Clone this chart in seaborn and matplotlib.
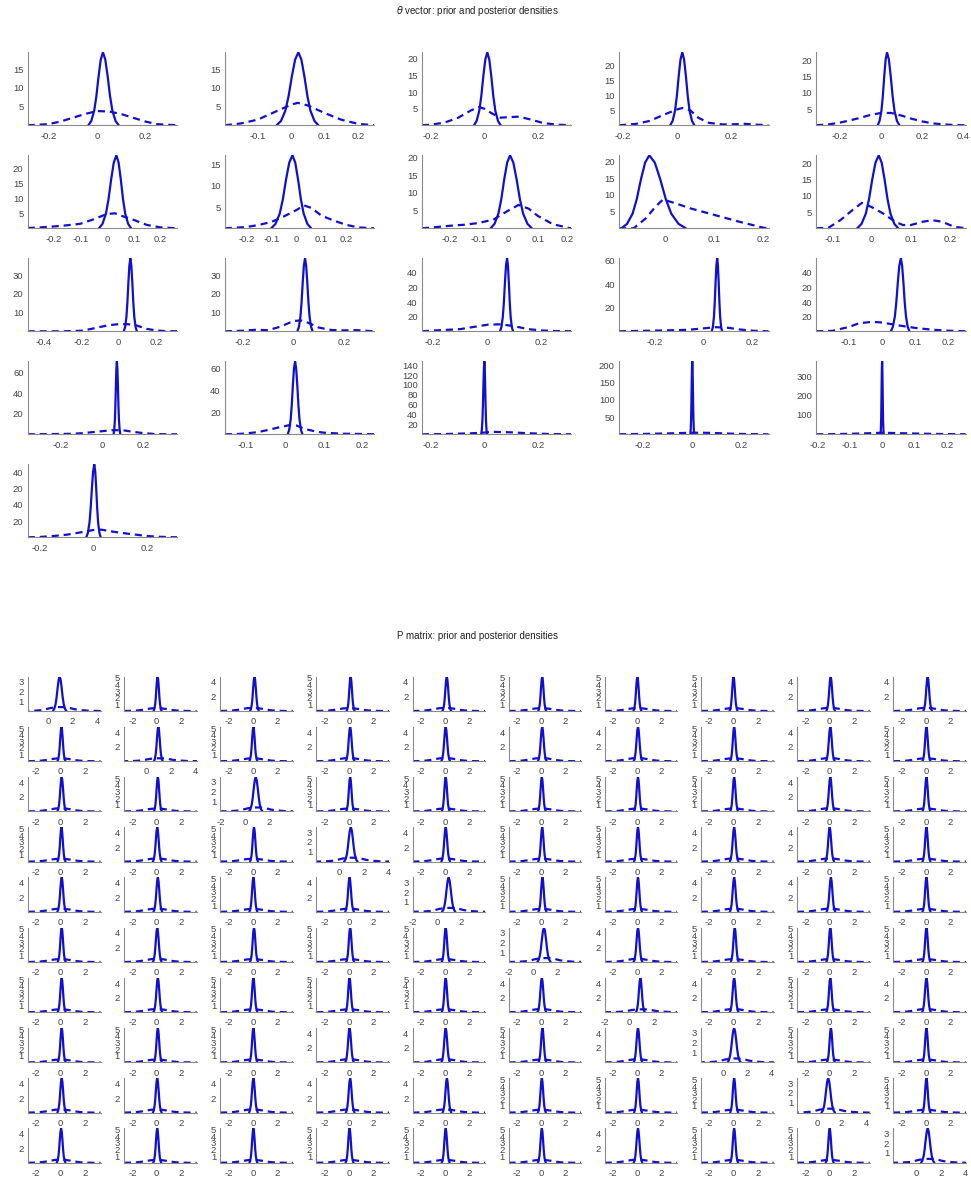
import numpy as np
import pandas as pd
import matplotlib
matplotlib.use("Agg")
import matplotlib.pyplot as plt
from matplotlib.ticker import AutoMinorLocator
import seaborn as sns

BLUE = "#1010d0"

# theta vector panels (5 x 5 grid, 21 used)
theta_xlim = [(-0.285, 0.331), (-0.198, 0.249), (-0.234, 0.326), (-0.215, 0.34), (-0.313, 0.41),
              (-0.296, 0.262), (-0.287, 0.312), (-0.293, 0.214), (-0.095, 0.211), (-0.142, 0.24),
              (-0.487, 0.314), (-0.27, 0.319), (-0.242, 0.311), (-0.344, 0.265), (-0.199, 0.251),
              (-0.363, 0.368), (-0.155, 0.23), (-0.234, 0.326), (-0.295, 0.311), (-0.204, 0.258),
              (-0.246, 0.313)]
theta_xticks = [[-0.2, 0, 0.2], [-0.1, 0, 0.1, 0.2], [-0.2, 0, 0.2], [-0.2, 0, 0.2], [-0.2, 0, 0.2, 0.4],
                [-0.2, -0.1, 0, 0.1, 0.2], [-0.2, -0.1, 0, 0.1, 0.2], [-0.2, -0.1, 0, 0.1, 0.2],
                [0, 0.1, 0.2], [-0.1, 0, 0.1, 0.2],
                [-0.4, -0.2, 0, 0.2], [-0.2, 0, 0.2], [-0.2, 0, 0.2], [-0.2, 0, 0.2], [-0.1, 0, 0.1, 0.2],
                [-0.2, 0, 0.2], [-0.1, 0, 0.1, 0.2], [-0.2, 0, 0.2], [-0.2, 0, 0.2],
                [-0.2, -0.1, 0, 0.1, 0.2], [-0.2, 0, 0.2]]
theta_ytop = [19.5, 19.5, 22, 24.5, 22.5, 24.4, 17.2, 20.6, 21.8, 22.4,
              39, 39, 50, 62, 50, 71, 67, 148, 211, 378, 45]
theta_yticks = [[5, 10, 15], [5, 10, 15], [5, 10, 15, 20], [5, 10, 15, 20], [5, 10, 15, 20],
                [5, 10, 15, 20], [5, 10, 15], [5, 10, 15, 20], [5, 10, 15, 20], [5, 10, 15, 20],
                [10, 20, 30], [10, 20, 30], [10, 20, 30, 40], [20, 40, 60], [10, 20, 30, 40],
                [20, 40, 60], [20, 40, 60], [20, 40, 60, 80, 100, 120, 140], [50, 100, 150, 200],
                [100, 200, 300], [10, 20, 30, 40]]
theta_ylabels = {12: ["20", "40", "20", "40"], 14: ["20", "40", "20", "40"], 20: ["20", "40", "20", "40"]}

# posterior: centre, half width on the left / right of the peak
theta_post_c = [0.025, 0.022, 0.011, 0.02, 0.03, 0.035, -0.016, 0.006, -0.033, 0.018,
                0.063, 0.046, 0.073, 0.056, 0.056, 0.073, 0.026, 0.0, 0.002, 0.0, 0.003]
theta_post_wl = [0.06, 0.065, 0.05, 0.045, 0.045, 0.065, 0.085, 0.066, 0.057, 0.055,
                 0.035, 0.03, 0.026, 0.022, 0.03, 0.016, 0.019, 0.012, 0.008, 0.005, 0.03]
theta_post_wr = [0.065, 0.06, 0.05, 0.045, 0.06, 0.055, 0.075, 0.074, 0.075, 0.05,
                 0.035, 0.03, 0.022, 0.02, 0.026, 0.017, 0.019, 0.01, 0.008, 0.005, 0.024]

theta_prior_x = [
    [-0.285, -0.2, -0.15, -0.1, -0.05, 0, 0.05, 0.1, 0.15, 0.2, 0.25, 0.331],
    [-0.198, -0.15, -0.1, -0.05, 0, 0.02, 0.05, 0.1, 0.15, 0.2, 0.249],
    [-0.234, -0.2, -0.15, -0.1, -0.05, -0.02, 0, 0.03, 0.06, 0.1, 0.13, 0.17, 0.22, 0.27, 0.326],
    [-0.215, -0.15, -0.1, -0.05, 0, 0.02, 0.05, 0.08, 0.12, 0.17, 0.2, 0.25, 0.3, 0.34],
    [-0.313, -0.25, -0.2, -0.15, -0.1, -0.05, 0, 0.05, 0.1, 0.15, 0.2, 0.25, 0.3, 0.35, 0.41],
    [-0.296, -0.25, -0.2, -0.15, -0.1, -0.05, 0, 0.03, 0.05, 0.1, 0.15, 0.2, 0.262],
    [-0.287, -0.2, -0.15, -0.1, -0.05, 0, 0.03, 0.06, 0.1, 0.15, 0.2, 0.25, 0.312],
    [-0.293, -0.25, -0.2, -0.15, -0.1, -0.05, 0, 0.035, 0.07, 0.1, 0.15, 0.2, 0.214],
    [-0.095, -0.065, -0.04, -0.02, -0.005, 0.02, 0.05, 0.1, 0.15, 0.2, 0.211],
    [-0.142, -0.11, -0.08, -0.05, -0.025, 0, 0.03, 0.06, 0.08, 0.1, 0.13, 0.155, 0.18, 0.21, 0.24],
    [-0.487, -0.3, -0.2, -0.15, -0.1, -0.05, 0, 0.05, 0.1, 0.15, 0.2, 0.25, 0.314],
    [-0.27, -0.2, -0.15, -0.1, -0.05, 0, 0.03, 0.06, 0.1, 0.15, 0.2, 0.25, 0.319],
    [-0.242, -0.2, -0.1, -0.05, 0, 0.05, 0.1, 0.15, 0.2, 0.25, 0.311],
    [-0.344, -0.3, -0.2, -0.1, -0.05, 0, 0.05, 0.1, 0.15, 0.2, 0.265],
    [-0.199, -0.15, -0.1, -0.07, -0.03, 0, 0.05, 0.1, 0.15, 0.2, 0.251],
    [-0.363, -0.25, -0.15, -0.1, -0.05, 0, 0.05, 0.1, 0.15, 0.2, 0.25, 0.3, 0.368],
    [-0.155, -0.12, -0.1, -0.07, -0.05, -0.02, 0.01, 0.03, 0.05, 0.08, 0.1, 0.15, 0.2, 0.23],
    [-0.234, -0.15, -0.05, 0, 0.03, 0.1, 0.15, 0.2, 0.25, 0.326],
    [-0.295, -0.2, -0.1, -0.05, 0, 0.05, 0.1, 0.15, 0.2, 0.25, 0.311],
    [-0.204, -0.15, -0.1, -0.05, 0, 0.05, 0.1, 0.15, 0.2, 0.258],
    [-0.246, -0.2, -0.15, -0.1, -0.05, 0, 0.03, 0.06, 0.1, 0.15, 0.2, 0.25, 0.313],
]
theta_prior_y = [
    [0, 0.3, 1.0, 2.0, 3.0, 3.8, 3.7, 3.0, 2.0, 1.0, 0.3, 0],
    [0, 0.5, 1.5, 3.5, 5.5, 6.0, 5.3, 3.3, 1.5, 0.4, 0],
    [0, 0.2, 0.8, 2.2, 4.5, 5.5, 5.0, 3.5, 2.3, 2.5, 2.6, 1.8, 0.7, 0.2, 0],
    [0, 0.5, 1.5, 3.5, 5.3, 5.8, 5.0, 2.5, 0.8, 0.3, 0.3, 0.5, 0.2, 0],
    [0, 0.3, 0.8, 1.5, 2.3, 3.2, 3.8, 3.8, 3.0, 2.0, 1.2, 0.6, 0.3, 0.1, 0],
    [0.1, 0.3, 0.6, 1.0, 1.5, 3.0, 4.8, 5.0, 4.3, 2.8, 1.1, 0.3, 0],
    [0, 0.3, 0.8, 1.5, 2.8, 4.3, 5.4, 4.8, 3.0, 1.8, 0.8, 0.2, 0],
    [0, 0.3, 0.7, 1.0, 1.5, 2.5, 5.0, 6.6, 5.5, 3.5, 1.2, 0.2, 0],
    [0, 0, 3.0, 6.5, 8.6, 7.5, 6.0, 4.0, 2.0, 0.2, 0],
    [0, 0.2, 2.5, 5.5, 7.8, 6.5, 4.5, 2.0, 1.0, 1.0, 2.0, 2.5, 2.0, 0.5, 0],
    [0, 0, 0.3, 1.2, 2.3, 3.3, 3.8, 3.8, 3.0, 1.3, 0.5, 0.1, 0],
    [0, 0.3, 0.8, 0.6, 2.5, 5.5, 5.8, 4.5, 2.0, 0.7, 0.5, 0.6, 0],
    [0, 0.5, 1.5, 3.0, 4.5, 4.8, 3.5, 1.5, 0.6, 0.2, 0],
    [0, 0.2, 0.6, 1.0, 1.5, 2.5, 3.5, 3.0, 1.5, 0.5, 0],
    [0, 0.3, 3.0, 5.5, 6.5, 6.0, 4.0, 2.3, 1.1, 0.4, 0],
    [0, 0.2, 0.5, 1.0, 2.0, 3.0, 4.0, 4.0, 2.5, 1.2, 0.4, 0.1, 0],
    [0, 0.3, 0.8, 2.0, 3.5, 6.0, 8.3, 8.0, 5.0, 2.5, 1.5, 0.5, 0.3, 0],
    [0, 0.5, 2.0, 3.5, 5.0, 4.0, 2.5, 1.4, 0.5, 0],
    [0.2, 1.0, 2.5, 3.5, 4.5, 4.5, 3.5, 2.0, 1.0, 0.5, 0],
    [0, 1.0, 2.5, 5.0, 8.0, 6.0, 4.0, 2.5, 1.0, 0.3],
    [0, 0.2, 0.8, 1.6, 3.0, 4.5, 4.7, 3.8, 2.8, 1.8, 0.8, 0.3, 0],
]

# shape of a posterior bump, base to base
bump_x = [-1, -0.8, -0.6, -0.45, -0.3, -0.15, 0, 0.15, 0.3, 0.45, 0.6, 0.8, 1]
bump_y = [0, 0.06, 0.2, 0.4, 0.67, 0.9, 1, 0.9, 0.67, 0.4, 0.2, 0.06, 0]

# P matrix panels (10 x 10); A: ticks 1-3, B: ticks 2,4, C: ticks 1-5
p_type = ["ACBCBCCCBB", "CBCBBBBCBC", "BCACCCCCBC", "CBCABCCBBC", "BBCBACCBBC",
          "CBCCCABCCC", "CBCCCBBBCB", "CCCBBCBACC", "BBBBBCCCAC", "BCCCCCBCCA"]
p_ytop = {"A": 3.5, "B": 4.75, "C": 5.2}
p_yticks = {"A": [1, 2, 3], "B": [2, 4], "C": [1, 2, 3, 4, 5]}
p_width = {"A": 0.55, "B": 0.36, "C": 0.33}
p_center = [
    [0.95, 0.08, 0.14, 0.14, 0.14, 0.08, 0.0, 0.0, 0.08, 0.15],
    [0.08, 0.95, 0.05, 0.10, 0.05, 0.08, 0.05, 0.05, 0.05, 0.05],
    [0.10, 0.10, 0.90, 0.10, 0.05, 0.05, 0.05, 0.05, 0.05, 0.05],
    [0.08, 0.05, 0.10, 0.92, 0.05, 0.08, 0.05, 0.05, 0.00, 0.05],
    [0.10, 0.10, 0.05, 0.05, 0.95, 0.10, 0.05, 0.05, 0.10, 0.05],
    [0.10, 0.05, 0.10, 0.10, 0.05, 0.88, 0.05, 0.10, 0.05, 0.05],
    [0.10, 0.10, 0.05, 0.05, 0.05, 0.05, 0.90, 0.05, 0.05, 0.05],
    [0.10, 0.10, 0.05, 0.05, 0.05, 0.10, 0.05, 0.92, 0.10, 0.05],
    [0.10, 0.05, 0.05, 0.10, 0.15, 0.05, 0.05, 0.05, 0.90, 0.05],
    [0.05, 0.05, 0.05, 0.05, 0.05, 0.05, 0.05, 0.05, 0.00, 0.92],
]
p_xlim = (-2.68, 3.3)
p_xticks = [-2, 0, 2]
diag_xlim = [(-1.63, 4.28), (-1.85, 4.09), (-2.02, 3.95), (-1.9, 4.05), (-2.02, 3.95),
             (-2.02, 3.95), (-2.02, 3.95), (-1.83, 4.2), (-1.64, 4.3), (-1.9, 4.05)]
diag_xticks = [[0, 2, 4], [0, 2, 4], [-2, 0, 2], [0, 2, 4], [-2, 0, 2],
               [-2, 0, 2], [-2, 0, 2], [0, 2, 4], [0, 2, 4], [0, 2, 4]]
prior_off_x = [-2.7, -2.2, -1.6, -1.2, -0.8, -0.4, 0, 0.4, 0.8, 1.2, 1.6, 2.2, 2.7, 3.3]
prior_off_y = [0, 0.02, 0.08, 0.17, 0.3, 0.4, 0.42, 0.4, 0.3, 0.17, 0.08, 0.02, 0, 0]
prior_diag_x = [-2.1, -1.2, -0.6, -0.2, 0.2, 0.6, 1.0, 1.4, 1.8, 2.2, 2.8, 3.4, 4.3]
prior_diag_y = [0, 0.02, 0.08, 0.17, 0.3, 0.38, 0.4, 0.38, 0.3, 0.17, 0.08, 0.02, 0]


def draw_panel(ax, post_x, post_y, prior_x, prior_y, xlim, xticks, ytop, yticks, ylabels=None):
    df = pd.concat([pd.DataFrame({"x": prior_x, "y": prior_y, "kind": "prior"}),
                    pd.DataFrame({"x": post_x, "y": post_y, "kind": "posterior"})],
                   ignore_index=True)
    sns.lineplot(data=df, x="x", y="y", style="kind",
                 dashes={"prior": (3.2, 2.2), "posterior": ""},
                 color=BLUE, linewidth=1.6, estimator=None, sort=False,
                 legend=False, ax=ax)
    ax.set_xlim(*xlim)
    ax.set_ylim(0, ytop)
    ax.set_xticks(xticks)
    ax.set_xticklabels([f"{v:g}" for v in xticks])
    ax.set_yticks(yticks)
    ax.set_yticklabels(ylabels if ylabels else [f"{v:g}" for v in yticks])
    ax.xaxis.set_minor_locator(AutoMinorLocator())
    ax.set_xlabel("")
    ax.set_ylabel("")
    ax.tick_params(which="both", direction="in", color="#808080",
                   labelcolor="#444444", labelsize=6.8)
    ax.tick_params(which="major", length=2.5)
    ax.tick_params(which="minor", length=1.5)
    ax.tick_params(axis="x", pad=4.5)
    ax.tick_params(axis="y", pad=3)
    for s in ["top", "right"]:
        ax.spines[s].set_visible(False)
    for s in ["left", "bottom"]:
        ax.spines[s].set_color("#8a8a8a")
        ax.spines[s].set_linewidth(0.8)


sns.set_style("white")
plt.rcParams["font.family"] = ["Liberation Sans", "DejaVu Sans"]

W, H = 971, 1184
fig = plt.figure(figsize=(W / 100, H / 100), dpi=100)

fig.text(0.492, 1 - 11 / H, r"$\theta$ vector: prior and posterior densities",
         ha="center", va="center", fontsize=7, color="#222222")
fig.text(0.492, 1 - 636 / H, "P matrix: prior and posterior densities",
         ha="center", va="center", fontsize=7, color="#222222")

for i in range(21):
    r, c = divmod(i, 5)
    left = 27.7 + 197.1 * c
    bottom = 125.3 + 103 * r
    ax = fig.add_axes([left / W, 1 - bottom / H, 149.5 / W, 73 / H])
    bx = np.array(bump_x)
    px = theta_post_c[i] + np.where(bx < 0, bx * theta_post_wl[i], bx * theta_post_wr[i])
    py = np.array(bump_y) * theta_ytop[i]
    draw_panel(ax, px, py, theta_prior_x[i], theta_prior_y[i], theta_xlim[i],
               theta_xticks[i], theta_ytop[i], theta_yticks[i], theta_ylabels.get(i))

for r in range(10):
    for c in range(10):
        t = p_type[r][c]
        left = 28 + 96.15 * c
        bottom = 711 + 50.2 * r
        ax = fig.add_axes([left / W, 1 - bottom / H, 72.5 / W, 34.5 / H])
        px = p_center[r][c] + np.array(bump_x) * p_width[t]
        py = np.array(bump_y) * p_ytop[t]
        if r == c:
            draw_panel(ax, px, py, prior_diag_x, prior_diag_y, diag_xlim[r],
                       diag_xticks[r], p_ytop[t], p_yticks[t])
        else:
            draw_panel(ax, px, py, prior_off_x, prior_off_y, p_xlim,
                       p_xticks, p_ytop[t], p_yticks[t])

fig.savefig("out.png", dpi=100)
